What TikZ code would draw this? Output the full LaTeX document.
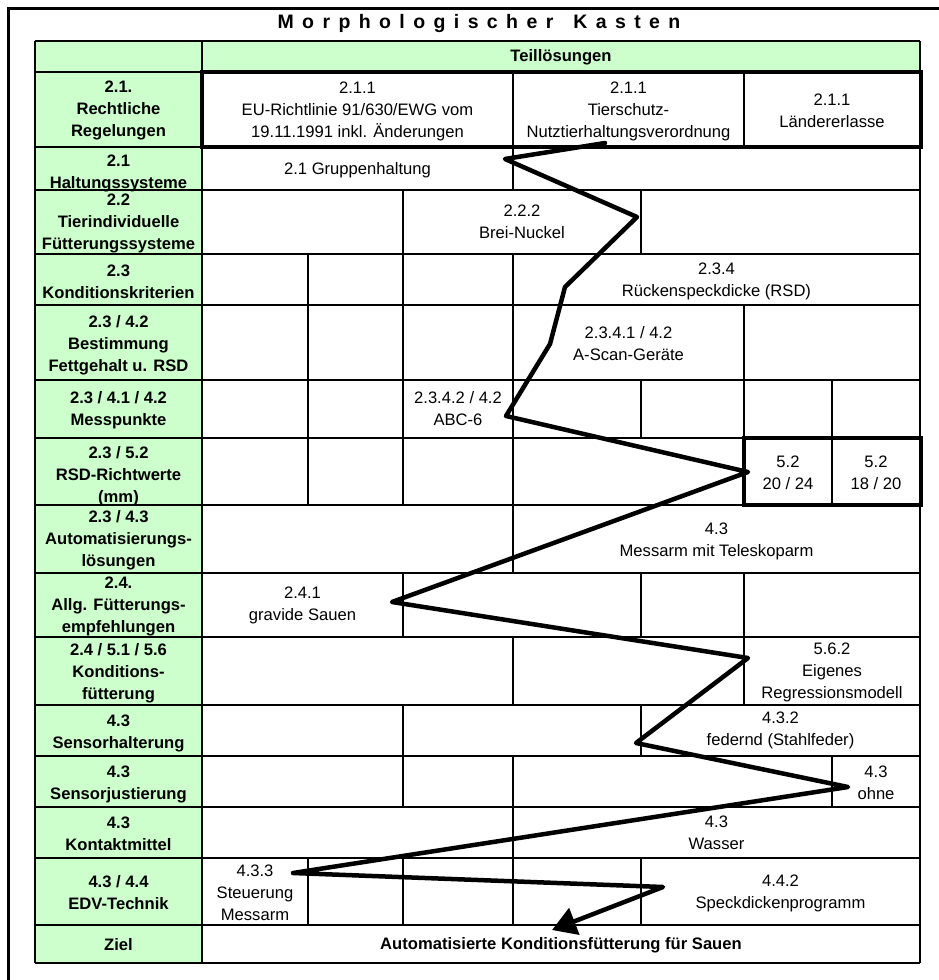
\documentclass[tikz,border=0pt]{standalone}
\usepackage{fontspec}
\setmainfont{Liberation Sans}
\usetikzlibrary{arrows.meta}
\definecolor{lgreen}{HTML}{CCFFCC}
\newcommand\tgap{\hspace{8.4pt}}
\begin{document}
\begin{tikzpicture}[x=1pt,y=-1pt,
  lab/.style={font=\fontsize{16.6}{22}\selectfont\bfseries, align=center, inner sep=0pt},
  txt/.style={font=\fontsize{16.6}{22}\selectfont, align=center, inner sep=0pt},
  gridline/.style={line width=1.7pt},
  rowline/.style={line width=2.3pt},
  heavybox/.style={line width=4.6pt},
  zig/.style={line width=4.5pt, line join=round, line cap=round},
  greenfill/.style={fill=lgreen, draw=none}]
\useasboundingbox (0,0) rectangle (938,980);
\fill[white] (0,0) rectangle (938,980);
% outer frame
\draw[line width=3pt] (8.5,995) -- (8.5,8.5) -- (950,8.5);
% title
\node[font=\fontsize{19.5}{22}\selectfont\bfseries, inner sep=0pt] (title) at (479,23)
  {M\tgap o\tgap r\tgap p\tgap h\tgap o\tgap l\tgap o\tgap g\tgap i\tgap s\tgap c\tgap h\tgap e\tgap r\hspace{20pt}K\tgap a\tgap s\tgap t\tgap e\tgap n};
% green fills
\fill[greenfill] (35,41) rectangle (920,72);
\fill[greenfill] (35,72) rectangle (202,963);
% header
\node[lab] (head) at (561,57) {Teillösungen};
% labels
\node[lab] (L1) at (118.5,110) {2.1.\\Rechtliche\\Regelungen};
\node[lab] (L2) at (118.5,173) {2.1\\Haltungssysteme};
\node[lab] (L3) at (118.5,223) {2.2\\Tierindividuelle\\Fütterungssysteme};
\node[lab] (L4) at (118.5,282) {2.3\\Konditionskriterien};
\node[lab] (L5) at (118.5,345) {2.3 / 4.2\\Bestimmung\\Fettgehalt u. RSD};
\node[lab] (L6) at (118.5,410) {2.3 / 4.1 / 4.2\\Messpunkte};
\node[lab] (L7) at (118.5,476) {2.3 / 5.2\\RSD-Richtwerte\\(mm)};
\node[lab] (L8) at (118.5,540) {2.3 / 4.3\\Automatisierungs-\\lösungen};
\node[lab] (L9) at (118.5,606) {2.4.\\Allg. Fütterungs-\\empfehlungen};
\node[lab] (L10) at (118.5,673) {2.4 / 5.1 / 5.6\\Konditions-\\fütterung};
\node[lab] (L11) at (118.5,733) {4.3\\Sensorhalterung};
\node[lab] (L12) at (118.5,784) {4.3\\Sensorjustierung};
\node[lab] (L13) at (118.5,834) {4.3\\Kontaktmittel};
\node[lab] (L14) at (118.5,893) {4.3 / 4.4\\EDV-Technik};
\node[lab] (L15) at (118.5,945) {Ziel};
% cell texts
\node[txt] (T1a) at (357.5,111) {2.1.1\\EU-Richtlinie 91/630/EWG vom\\19.11.1991 inkl. Änderungen};
\node[txt] (T1b) at (628.5,111) {2.1.1\\Tierschutz-\\Nutztierhaltungsverordnung};
\node[txt] (T1c) at (832,111) {2.1.1\\Ländererlasse};
\node[txt] (T2) at (357.5,170) {2.1 Gruppenhaltung};
\node[txt] (T3) at (522,222) {2.2.2\\Brei-Nuckel};
\node[txt] (T4) at (716.5,281) {2.3.4\\Rückenspeckdicke (RSD)};
\node[txt] (T5) at (628.5,344) {2.3.4.1 / 4.2\\A-Scan-Geräte};
\node[txt] (T6) at (458,409) {2.3.4.2 / 4.2\\ABC-6};
\node[txt] (T7a) at (788,473) {5.2\\20 / 24};
\node[txt] (T7b) at (876,473) {5.2\\18 / 20};
\node[txt] (T8) at (716.5,541) {4.3\\Messarm mit Teleskoparm};
\node[txt] (T9) at (302.5,605) {2.4.1\\gravide Sauen};
\node[txt] (T10) at (832,672) {5.6.2\\Eigenes\\Regressionsmodell};
\node[txt] (T11) at (780.5,730) {4.3.2\\federnd (Stahlfeder)};
\node[txt] (T12) at (876,783) {4.3\\ohne};
\node[txt] (T13) at (716.5,833) {4.3\\Wasser};
\node[txt] (T14a) at (255,893) {4.3.3\\Steuerung\\Messarm};
\node[txt] (T14b) at (780.5,893) {4.4.2\\Speckdickenprogramm};
\node[lab] (T15) at (561,945) {Automatisierte Konditionsfütterung für Sauen};
% horizontal row lines
\foreach \y in {41,72,147,190,254,305,380,438,505,573,637,705,756,807,858,925,963}
  \draw[rowline] (35,\y) -- (920,\y);
% outer verticals
\foreach \x in {35,202,920}
  \draw[gridline, line width=2.1pt] (\x,41) -- (\x,963);
% inner verticals per row
\foreach \x/\ya/\yb in {
  513/72/147, 744/72/147,
  513/147/190,
  403/190/254, 641/190/254,
  308/254/305, 403/254/305, 513/254/305,
  308/305/380, 403/305/380, 513/305/380, 744/305/380,
  308/380/438, 403/380/438, 513/380/438, 641/380/438, 744/380/438, 832/380/438,
  308/438/505, 403/438/505, 513/438/505, 744/438/505, 832/438/505,
  513/505/573,
  403/573/637, 641/573/637, 744/573/637,
  513/637/705, 744/637/705,
  403/705/756, 641/705/756,
  403/756/807, 513/756/807, 832/756/807,
  513/807/858,
  308/858/925, 403/858/925, 513/858/925, 641/858/925}
  \draw[gridline] (\x,\ya) -- (\x,\yb);
% heavy boxes
\draw[heavybox] (202,72) rectangle (921,147);
\draw[heavybox] (744,438) rectangle (921,505);
% zigzag
\coordinate (z1) at (605,143);
\coordinate (z2) at (505,159);
\coordinate (z3) at (637,217);
\coordinate (z4) at (565,287);
\coordinate (z5) at (550,344);
\coordinate (z6) at (506,416);
\coordinate (z7) at (748,472);
\coordinate (z8) at (392,602);
\coordinate (z9) at (748,658);
\coordinate (z10) at (636,743);
\coordinate (z11) at (848,787);
\coordinate (z12) at (293,873);
\coordinate (z13) at (663,887);
\coordinate (z14) at (552,930);
\draw[zig, -{Triangle[length=24pt,width=28pt]}] (z1) -- (z2) -- (z3) -- (z4) -- (z5) -- (z6) -- (z7) -- (z8) -- (z9) -- (z10) -- (z11) -- (z12) -- (z13) -- (z14);
\end{tikzpicture}
\end{document}
